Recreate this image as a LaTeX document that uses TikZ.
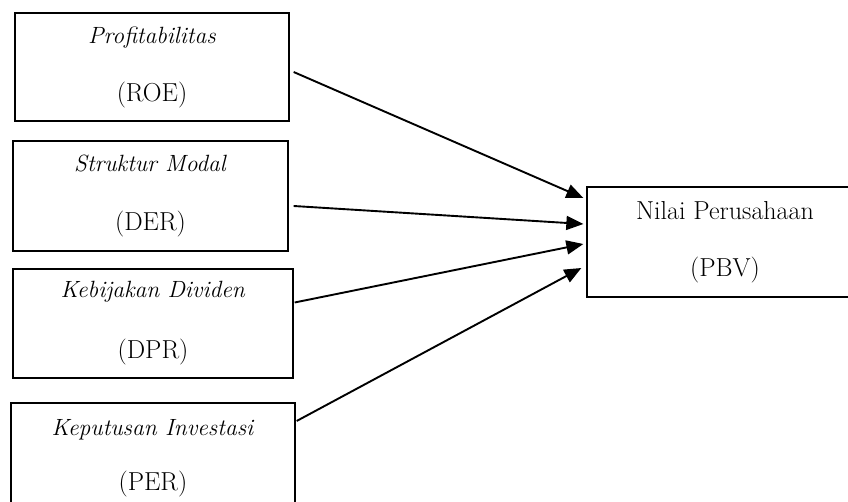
\documentclass[tikz,border=0pt]{standalone}
\usetikzlibrary{arrows.meta,calc}
\newcommand{\ttl}[1]{{\fontsize{23.5}{28}\selectfont\textit{#1}}}
\begin{document}
\begin{tikzpicture}[x=1pt,y=-1pt,
  box/.style={draw,line width=1.3pt,align=center,inner sep=0pt,
    font=\fontsize{26}{28}\selectfont},
  conn/.style={line width=1.9pt,-{Triangle[length=17pt,width=14pt]}}]
\useasboundingbox (0,0) rectangle (848,502);
\clip (0,0) rectangle (848,502);
\fill[white] (0,0) rectangle (848,502);
\node[box,minimum width=274pt,minimum height=108pt] (b1) at (152,67)
  {\ttl{Profitabilitas}\\[30pt](ROE)};
\node[box,minimum width=275pt,minimum height=110pt] (b2) at (150.5,196)
  {\ttl{Struktur Modal}\\[31pt](DER)};
\node[box,minimum width=280pt,minimum height=109pt] (b3) at (153,323.5)
  {\ttl{Kebijakan Dividen}\\[33pt](DPR)};
\node[box,minimum width=284pt,minimum height=110pt] (b4) at (153,458)
  {\ttl{Keputusan Investasi}\\[27pt](PER)};
\node[box,minimum width=276pt,minimum height=110pt] (pbv) at (725,242)
  {Nilai Perusahaan\\[29pt](PBV)};
\draw[conn] ($(b1.east)+(4,5)$) -- ($(pbv.west)+(-3,-44)$);
\draw[conn] ($(b2.east)+(5,10)$) -- ($(pbv.west)+(-3,-18)$);
\draw[conn] ($(b3.east)+(1,-21)$) -- ($(pbv.west)+(-3,2)$);
\draw[conn] ($(b4.east)+(1,-37)$) -- ($(pbv.west)+(-5,26)$);
\end{tikzpicture}
\end{document}
